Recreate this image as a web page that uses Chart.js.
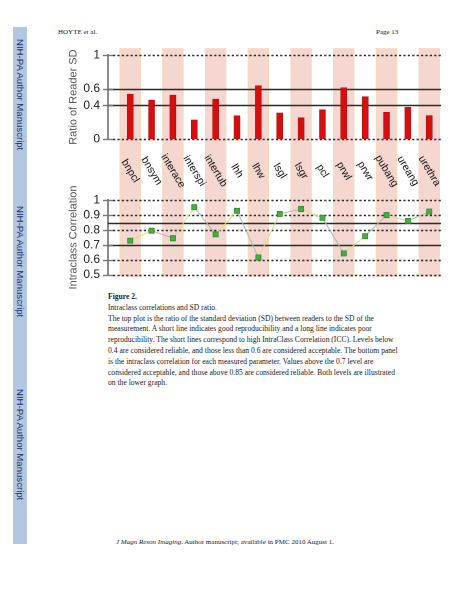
<!DOCTYPE html>
<html>
<head>
<meta charset="utf-8">
<script src="https://cdn.jsdelivr.net/npm/chart.js@4"></script>
<style>
  body { margin: 0; background: #fff; }
  #page { position: relative; width: 463px; height: 599px; overflow: hidden; background: #fff; }
  #sidebar { position: absolute; left: 13px; top: 27px; width: 14px; height: 517px; background: #b4c7e1; }
  .nih { position: absolute; left: 13px; width: 14px; height: 130px; writing-mode: vertical-rl;
         text-align: center; font: 9.6px "Liberation Sans", Arial, sans-serif; color: #1c2b6b; line-height: 14px; }
  .serif { position: absolute; font-family: "Liberation Serif", "Times New Roman", serif; color: #222; white-space: pre; }
  #topWrap { position: absolute; left: 55px; top: 40px; width: 395px; height: 160px; z-index: 2; }
  #botWrap { position: absolute; left: 55px; top: 185px; width: 395px; height: 105px; z-index: 1; }
</style>
</head>
<body>
<div id="page">
  <div id="sidebar"></div>
  <div class="nih" style="top:30px">NIH-PA Author Manuscript</div>
  <div class="nih" style="top:197px">NIH-PA Author Manuscript</div>
  <div class="nih" style="top:380px">NIH-PA Author Manuscript</div>

  <div class="serif" style="left:58px; top:28px; font-size:7px">HOYTE et al.</div>
  <div class="serif" style="left:376px; top:28px; font-size:7px">Page 13</div>

  <div id="topWrap"><canvas id="topChart"></canvas></div>
  <div id="botWrap"><canvas id="botChart"></canvas></div>

  <div class="serif" style="left:108px; top:292px; font-size:7.6px; line-height:10.8px"><b>Figure 2.</b>
Intraclass correlations and SD ratio.
The top plot is the ratio of the standard deviation (SD) between readers to the SD of the
measurement. A short line indicates good reproducibility and a long line indicates poor
reproducibility. The short lines correspond to high IntraClass Correlation (ICC). Levels below
0.4 are considered reliable, and those less than 0.6 are considered acceptable. The bottom panel
is the intraclass correlation for each measured parameter. Values above the 0.7 level are
considered acceptable, and those above 0.85 are considered reliable. Both levels are illustrated
on the lower graph.</div>

  <div class="serif" style="left:116px; top:538px; font-size:7px"><i>J Magn Reson Imaging</i>. Author manuscript; available in PMC 2010 August 1.</div>
</div>

<script>
// measured parameters (x categories)
const categories = ['bnpcl', 'bnsym', 'interace', 'interspi', 'intertub', 'lhh', 'lhw', 'lsgl',
                    'lsgr', 'pcl', 'prwl', 'prwr', 'pubang', 'ureang', 'urethra'];

// top panel: ratio of reader SD
const sdRatio = [0.535, 0.465, 0.524, 0.228, 0.476, 0.276, 0.634, 0.311,
                 0.252, 0.350, 0.610, 0.504, 0.319, 0.378, 0.280];
const sdTicks = [0, 0.4, 0.6, 1];
const sdDotted = [0, 1];
const sdSolid = [0.4, 0.6];

// bottom panel: intraclass correlation
const icc = [0.729, 0.796, 0.745, 0.953, 0.771, 0.929, 0.616, 0.908,
             0.941, 0.882, 0.643, 0.759, 0.900, 0.861, 0.924];
const iccTicks = [0.5, 0.6, 0.7, 0.8, 0.9, 1];
const iccDotted = [0.5, 0.6, 0.8, 0.9, 1];
const iccSolid = [0.7, 0.85];

const BAND = '#f5d6d0';
const BAND_EDGE = '#efe2a8';
const FONT = '"Liberation Sans", Arial, sans-serif';

// pink column bands behind every other category
function drawBands(chart, y0, y1) {
  const ctx = chart.ctx;
  const x = chart.scales.x;
  ctx.save();
  categories.forEach(function(c, i) {
    if (i % 2 !== 0) return;
    const l = x.getPixelForValue(i - 0.5);
    const r = x.getPixelForValue(i + 0.5);
    ctx.fillStyle = BAND;
    ctx.fillRect(l, y0, r - l, y1 - y0);
    ctx.strokeStyle = BAND_EDGE;
    ctx.lineWidth = 1;
    ctx.setLineDash([2, 2]);
    ctx.beginPath();
    ctx.moveTo(l + 0.5, y0); ctx.lineTo(l + 0.5, y1);
    ctx.moveTo(r - 0.5, y0); ctx.lineTo(r - 0.5, y1);
    ctx.stroke();
  });
  ctx.restore();
}

// reference levels: dotted and solid horizontal lines, with tick marks on the axis
function drawLevels(chart, dotted, solid, ticks) {
  const ctx = chart.ctx;
  const y = chart.scales.y;
  const a = chart.chartArea;
  ctx.save();
  ctx.strokeStyle = '#2a2a2a';
  ctx.lineWidth = 1.6;
  dotted.forEach(function(v) {
    const py = Math.round(y.getPixelForValue(v)) + 0.5;
    ctx.setLineDash([2.2, 2.2]);
    ctx.beginPath(); ctx.moveTo(a.left + 5, py); ctx.lineTo(a.right, py); ctx.stroke();
  });
  ctx.setLineDash([]);
  solid.forEach(function(v) {
    const py = Math.round(y.getPixelForValue(v)) + 0.5;
    ctx.beginPath(); ctx.moveTo(a.left, py); ctx.lineTo(a.right, py); ctx.stroke();
  });
  ctx.strokeStyle = '#777';
  ctx.lineWidth = 1.4;
  ticks.forEach(function(v) {
    const py = Math.round(y.getPixelForValue(v)) + 0.5;
    ctx.beginPath(); ctx.moveTo(a.left - 5, py); ctx.lineTo(a.left + 5, py); ctx.stroke();
  });
  ctx.restore();
}

function yAxis(min, max, ticks, title) {
  return {
    type: 'linear',
    min: min,
    max: max,
    afterBuildTicks: function(scale) { scale.ticks = ticks.map(function(v) { return { value: v }; }); },
    afterFit: function(scale) { scale.width = 53; },
    grid: { display: false, drawTicks: false },
    border: { display: true, color: '#8a8a8a', width: 2 },
    ticks: { padding: 8, autoSkip: false, color: '#222', font: { family: FONT, size: 12 },
             callback: function(v) { return String(v); } },
    title: { display: true, text: title, color: '#555', font: { family: FONT, size: 11 },
             padding: { top: 12, bottom: 0 } }
  };
}

function xAxis() {
  return { type: 'linear', min: -1.04, max: 14.55, offset: false, display: false,
           grid: { offset: false } };
}

const topConfig = {
  type: 'bar',
  data: {
    datasets: [{
      data: categories.map(function(c, i) { return { x: i, y: sdRatio[i] }; }),
      backgroundColor: '#d40f0f',
      borderColor: '#b00808',
      borderWidth: 0.5,
      barThickness: 6
    }]
  },
  options: {
    responsive: false,
    animation: false,
    devicePixelRatio: 2,
    layout: { padding: { top: 14, right: 9, bottom: 61, left: 0 } },
    plugins: { legend: { display: false }, tooltip: { enabled: false } },
    scales: { x: xAxis(), y: yAxis(0, 1, sdTicks, 'Ratio of Reader SD') }
  },
  plugins: [{
    id: 'topDecor',
    beforeDraw: function(chart) {
      drawBands(chart, chart.chartArea.top - 7, 145);
    },
    beforeDatasetsDraw: function(chart) {
      drawLevels(chart, sdDotted, sdSolid, sdTicks);
    },
    afterDraw: function(chart) {
      // rotated category labels between the two panels
      const ctx = chart.ctx;
      const x = chart.scales.x;
      ctx.save();
      ctx.fillStyle = '#111';
      ctx.font = '10.5px ' + FONT;
      ctx.textAlign = 'center';
      ctx.textBaseline = 'middle';
      categories.forEach(function(c, i) {
        ctx.save();
        ctx.translate(x.getPixelForValue(i), 131);
        ctx.rotate(59 * Math.PI / 180);
        ctx.fillText(c, 0, 0);
        ctx.restore();
      });
      ctx.restore();
    }
  }]
};

const botConfig = {
  type: 'line',
  data: {
    datasets: [{
      data: categories.map(function(c, i) { return { x: i, y: icc[i] }; }),
      borderWidth: 1,
      segment: {
        borderColor: function(ctx) { return ctx.p0DataIndex % 2 === 0 ? '#e2dc7c' : '#aebab5'; }
      },
      pointStyle: 'rect',
      pointRadius: 3.6,
      pointBackgroundColor: '#45b041',
      pointBorderColor: '#2f8a2c',
      pointBorderWidth: 0.8,
      tension: 0
    }]
  },
  options: {
    responsive: false,
    animation: false,
    devicePixelRatio: 2,
    layout: { padding: { top: 10, right: 9, bottom: 10, left: 0 } },
    plugins: { legend: { display: false }, tooltip: { enabled: false } },
    scales: { x: xAxis(), y: yAxis(0.5, 1, iccTicks, 'Intraclass Correlation') }
  },
  plugins: [{
    id: 'botDecor',
    beforeDraw: function(chart) {
      drawBands(chart, 0, chart.chartArea.bottom + 2);
    },
    beforeDatasetsDraw: function(chart) {
      drawLevels(chart, iccDotted, iccSolid, iccTicks);
    }
  }]
};

const topCanvas = document.getElementById('topChart');
topCanvas.width = 395; topCanvas.height = 160;
topCanvas.style.width = '395px'; topCanvas.style.height = '160px';
const botCanvas = document.getElementById('botChart');
botCanvas.width = 395; botCanvas.height = 105;
botCanvas.style.width = '395px'; botCanvas.style.height = '105px';

const topChart = new Chart(topCanvas, topConfig);
const botChart = new Chart(botCanvas, botConfig);
</script>
</body>
</html>
